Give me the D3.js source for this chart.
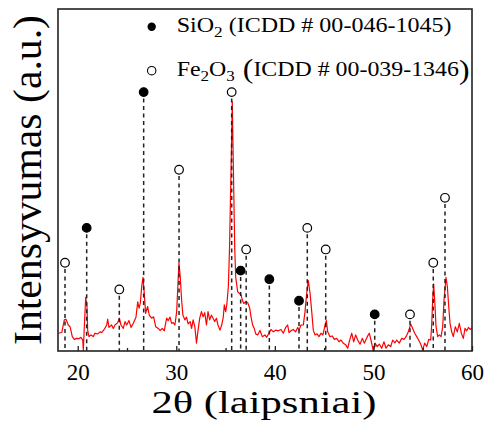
<!DOCTYPE html>
<html>
<head>
<meta charset="utf-8">
<script src="https://cdn.jsdelivr.net/npm/d3@7"></script>
<style>
    body { margin: 0; background: #fff; }
    svg { display: block; font-family: "Liberation Serif", "Times New Roman", serif; }
</style>
</head>
<body>
<div id="container"></div>
<script>

// XRD pattern (2theta, intensity in a.u.)
const twoTheta = [
    18.03, 18.38, 18.64, 18.81, 19.04, 19.22, 19.45, 19.65, 19.90, 20.13, 20.33, 20.51, 20.57, 20.67, 20.81, 20.94,
    21.01, 21.14, 21.35, 21.58, 21.75, 22.03, 22.26, 22.43, 22.69, 22.94, 23.04, 23.17, 23.44, 23.61, 23.78, 24.06,
    24.22, 24.39, 24.62, 24.80, 24.97, 25.20, 25.41, 25.64, 25.91, 26.09, 26.22, 26.35, 26.49, 26.62, 26.75, 26.89,
    27.09, 27.26, 27.50, 27.70, 27.91, 28.17, 28.35, 28.58, 28.78, 29.02, 29.18, 29.36, 29.53, 29.69, 29.86, 30.04,
    30.14, 30.27, 30.40, 30.54, 30.67, 30.87, 31.04, 31.20, 31.41, 31.55, 31.71, 31.88, 32.05, 32.21, 32.38, 32.55,
    32.72, 32.89, 33.06, 33.22, 33.39, 33.56, 33.73, 33.90, 34.07, 34.23, 34.43, 34.61, 34.77, 34.87, 35.01, 35.14,
    35.28, 35.40, 35.55, 35.68, 35.80, 35.93, 36.03, 36.23, 36.39, 36.57, 36.70, 36.84, 37.04, 37.25, 37.45, 37.58,
    37.75, 37.91, 38.06, 38.26, 38.49, 38.73, 39.00, 39.17, 39.40, 39.61, 39.84, 40.09, 40.35, 40.62, 40.86, 41.10,
    41.30, 41.44, 41.64, 41.87, 42.11, 42.32, 42.45, 42.65, 42.89, 43.06, 43.23, 43.39, 43.57, 43.74, 43.90, 44.07,
    44.28, 44.48, 44.68, 44.88, 45.09, 45.22, 45.36, 45.59, 45.83, 46.03, 46.27, 46.51, 46.71, 46.94, 47.19, 47.39,
    47.59, 47.80, 48.00, 48.20, 48.40, 48.64, 48.87, 49.07, 49.38, 49.58, 49.75, 49.99, 50.16, 50.39, 50.60, 50.84,
    51.07, 51.28, 51.51, 51.75, 51.95, 52.19, 52.36, 52.62, 52.87, 53.10, 53.31, 53.54, 53.78, 53.98, 54.19, 54.39,
    54.59, 54.80, 55.00, 55.20, 55.41, 55.61, 55.81, 55.91, 56.01, 56.11, 56.25, 56.35, 56.52, 56.68, 56.86, 57.03,
    57.16, 57.36, 57.50, 57.64, 57.77, 57.94, 58.10, 58.31, 58.51, 58.71, 58.92, 59.12, 59.29, 59.46, 59.64, 59.81,
    60.00
];
const intensity = [
    52, 54, 91, 93, 76, 71, 42, 34, 37, 36, 40, 32, 2, 71, 157, 130,
    61, 42, 47, 42, 52, 50, 56, 54, 63, 76, 93, 69, 76, 66, 76, 83,
    96, 76, 66, 86, 76, 89, 69, 81, 99, 144, 125, 139, 188, 215, 169, 110,
    130, 105, 96, 100, 71, 66, 60, 66, 59, 96, 89, 99, 81, 83, 76, 115,
    178, 258, 217, 149, 105, 91, 99, 79, 86, 66, 91, 71, 23, 61, 96, 115,
    100, 112, 76, 115, 91, 105, 96, 86, 96, 76, 61, 76, 100, 135, 115, 139,
    188, 300, 520, 729, 520, 300, 215, 173, 169, 164, 149, 139, 144, 141, 125, 100,
    76, 66, 50, 47, 60, 42, 47, 40, 52, 63, 56, 61, 59, 63, 52, 69,
    76, 54, 59, 63, 56, 69, 61, 76, 76, 115, 169, 206, 169, 115, 61, 47,
    50, 42, 52, 47, 76, 89, 56, 42, 44, 34, 37, 27, 32, 23, 18, 8,
    32, 52, 27, 47, 32, 20, 37, 23, 42, 52, 32, 0, 23, 13, 20, 8,
    27, 8, 18, 13, 32, 24, 32, 23, 37, 34, 42, 56, 79, 66, 52, 42,
    32, 20, 3, 23, 13, 34, 32, 76, 149, 196, 130, 71, 42, 47, 42, 71,
    149, 215, 188, 130, 81, 56, 42, 71, 56, 81, 52, 37, 66, 59, 69, 63,
    67
];

// reference reflections (position, marker height)
const sio2Pos = [20.91, 26.69, 36.53, 39.44, 42.45, 50.13];
const sio2Height = [360, 757, 235, 210, 147, 107];
const fe2o3Pos = [18.71, 24.22, 30.28, 35.62, 37.09, 43.29, 45.16, 53.71, 56.07, 57.26];
const fe2o3Height = [258, 180, 530, 757, 297, 360, 297, 107, 258, 448];

const xTicks = [20, 30, 40, 50, 60];
const xMinorTicks = [25, 35, 45, 55];

const width = 487;
const height = 422;
const margin = { top: 9, right: 15, bottom: 71, left: 58 };

const x = d3.scaleLinear().domain([18, 60]).range([margin.left, width - margin.right]);
const y = d3.scaleLinear().domain([0, 1000]).range([height - margin.bottom, margin.top]);

const svg = d3.select('#container')
    .append('svg')
    .attr('width', width)
    .attr('height', height)
    .attr('viewBox', [0, 0, width, height]);

// stretch a text horizontally so that it covers the measured width
const fitWidth = (sel, target, x0) => {
    const w = sel.node().getBBox().width;
    const s = target / w;
    sel.attr('transform', `translate(${x0},0) scale(${s},1) translate(${-x0},0)`);
};

const pattern = twoTheta.map((t, i) => [t, intensity[i]]);

svg.append('path')
    .datum(pattern)
    .attr('fill', 'none')
    .attr('stroke', '#ff0000')
    .attr('stroke-width', 1.2)
    .attr('stroke-linejoin', 'round')
    .attr('d', d3.line().x(d => x(d[0])).y(d => y(d[1])));

const r = 4.3;
const refs = sio2Pos.map((p, i) => ({ pos: p, h: sio2Height[i], phase: 'SiO2' }))
    .concat(fe2o3Pos.map((p, i) => ({ pos: p, h: fe2o3Height[i], phase: 'Fe2O3' })));

svg.append('g')
    .selectAll('line')
    .data(refs)
    .join('line')
    .attr('x1', d => x(d.pos))
    .attr('x2', d => x(d.pos))
    .attr('y1', d => y(d.h) + r + 2)
    .attr('y2', y(0))
    .attr('stroke', '#222')
    .attr('stroke-width', 1.5)
    .attr('stroke-dasharray', '4,3.5');

svg.append('g')
    .selectAll('circle')
    .data(refs)
    .join('circle')
    .attr('cx', d => x(d.pos))
    .attr('cy', d => y(d.h))
    .attr('r', r)
    .attr('fill', d => d.phase === 'SiO2' ? '#000' : '#fff')
    .attr('stroke', '#000')
    .attr('stroke-width', 1.2);

// axes
const xAxis = svg.append('g')
    .attr('transform', `translate(0,${y(0)})`)
    .call(d3.axisBottom(x).tickValues(xTicks).tickSizeInner(-5).tickSizeOuter(0).tickPadding(12.5));
xAxis.select('.domain').remove();
xAxis.selectAll('line').attr('stroke', '#222').attr('stroke-width', 1.3);
xAxis.selectAll('text')
    .attr('fill', '#000')
    .style('font-size', '23px')
    .style('font-family', '"Liberation Serif", serif');

const xMinor = svg.append('g')
    .attr('transform', `translate(0,${y(0)})`)
    .call(d3.axisBottom(x).tickValues(xMinorTicks).tickSizeInner(-3).tickSizeOuter(0).tickFormat(''));
xMinor.select('.domain').remove();
xMinor.selectAll('line').attr('stroke', '#222').attr('stroke-width', 1.3);

svg.append('rect')
    .attr('x', x(18))
    .attr('y', y(1000))
    .attr('width', x(60) - x(18))
    .attr('height', y(0) - y(1000))
    .attr('fill', 'none')
    .attr('stroke', '#222')
    .attr('stroke-width', 1.6);

// axis titles
const xTitle = svg.append('text')
    .attr('x', 264)
    .attr('y', 413.5)
    .attr('text-anchor', 'middle')
    .style('font-size', '32px')
    .text('2θ (laipsniai)');
fitWidth(xTitle, 225, 264);

svg.append('text')
    .attr('transform', 'translate(41,180) rotate(-90)')
    .attr('text-anchor', 'middle')
    .style('font-size', '40px')
    .attr('textLength', 330)
    .attr('lengthAdjust', 'spacingAndGlyphs')
    .text('Intensyvumas (a.u.)');

// legend
const lx = 151.7;
const tx = 176.7;

svg.append('circle').attr('cx', lx).attr('cy', 26.7).attr('r', 4.2).attr('fill', '#000');
svg.append('circle').attr('cx', lx).attr('cy', 70.7).attr('r', 4.2)
    .attr('fill', '#fff').attr('stroke', '#000').attr('stroke-width', 1.1);

const leg1 = svg.append('text').attr('x', tx).attr('y', 32).style('font-size', '21px');
leg1.append('tspan').text('SiO');
leg1.append('tspan').attr('dy', 5).style('font-size', '15px').text('2');
leg1.append('tspan').attr('dy', -5).text(' (ICDD # 00-046-1045)');
fitWidth(leg1, 275, tx);

const leg2 = svg.append('text').attr('x', tx).attr('y', 76).style('font-size', '21px');
leg2.append('tspan').text('Fe');
leg2.append('tspan').attr('dy', 5).style('font-size', '15px').text('2');
leg2.append('tspan').attr('dy', -5).text('O');
leg2.append('tspan').attr('dy', 5).style('font-size', '15px').text('3');
leg2.append('tspan').attr('dy', -3).style('font-size', '28px').text(' (');
leg2.append('tspan').attr('dy', -2).text('ICDD # 00-039-1346');
leg2.append('tspan').attr('dy', 3).style('font-size', '28px').text(')');
fitWidth(leg2, 293, tx);

</script>
</body>
</html>
